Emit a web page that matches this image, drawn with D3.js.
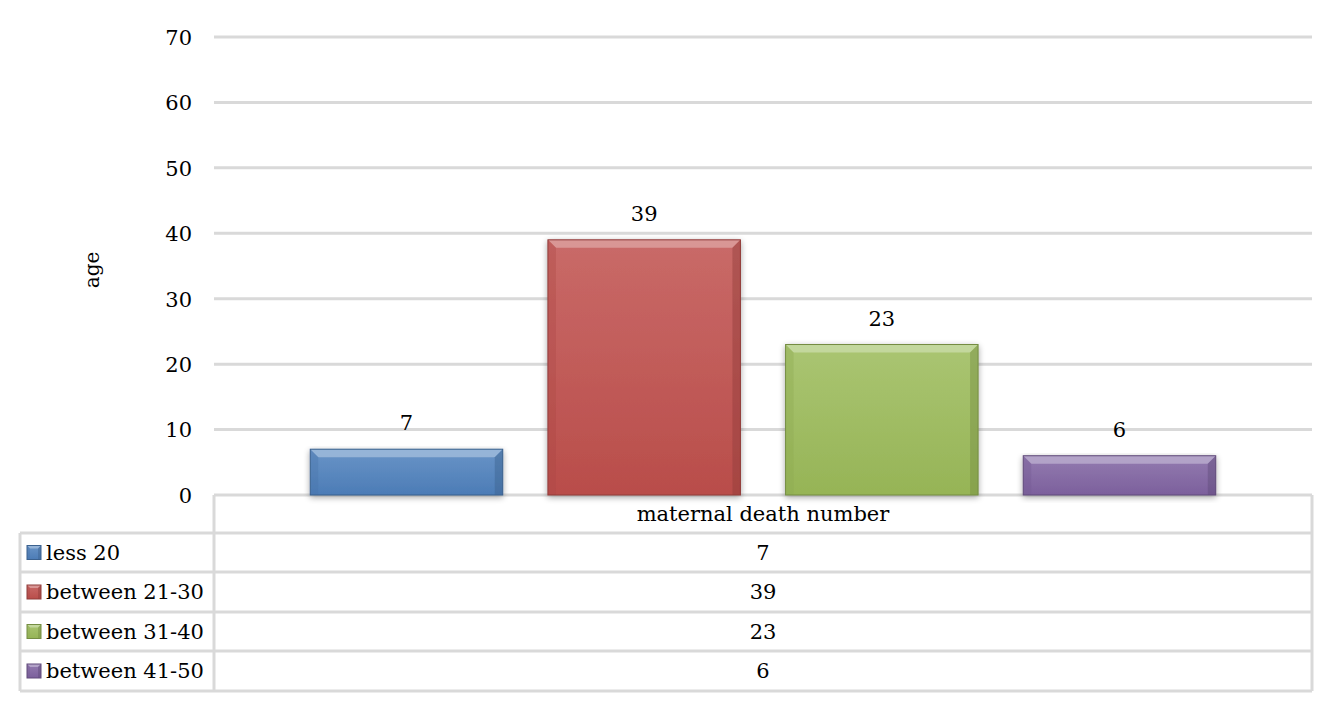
<!DOCTYPE html>
<html>
<head>
<meta charset="utf-8">
<script src="https://cdn.jsdelivr.net/npm/d3@7"></script>
<style>
  body { margin: 0; background: #fff; }
  svg text { font-family: "DejaVu Serif", serif; fill: #000; }
</style>
</head>
<body>
<svg id="chart" width="1336" height="708"></svg>
<script>
// data
var seriesNames = ["less 20", "between 21-30", "between 31-40", "between 41-50"];
var seriesValues = [7, 39, 23, 6];
var seriesColors = ["#4f81bd", "#c0504d", "#9bbb59", "#8064a2"];
var categoryLabel = "maternal death number";
var yTicks = [0, 10, 20, 30, 40, 50, 60, 70];
var yTitle = "age";

var svg = d3.select("#chart");
var plot = { left: 214, right: 1312, top: 37, bottom: 495 };
var fontSize = "21px";

var y = d3.scaleLinear().domain([0, 70]).range([plot.bottom, plot.top]);
var x = d3.scaleBand().domain(seriesNames).range([plot.left, plot.right])
	.paddingInner(0.19).paddingOuter(0.405);

var defs = svg.append("defs");

// soft shadow under the bars
var shadow = defs.append("filter").attr("id", "shadow")
	.attr("x", "-10%").attr("y", "-10%").attr("width", "120%").attr("height", "130%");
shadow.append("feGaussianBlur").attr("in", "SourceAlpha").attr("stdDeviation", 3);
shadow.append("feOffset").attr("dx", 0).attr("dy", 2).attr("result", "blur");
shadow.append("feComponentTransfer").append("feFuncA").attr("type", "linear").attr("slope", 0.35);
var merge = shadow.append("feMerge");
merge.append("feMergeNode");
merge.append("feMergeNode").attr("in", "SourceGraphic");

seriesColors.forEach(function(c, i) {
	var g = defs.append("linearGradient").attr("id", "grad_" + i)
		.attr("x1", 0).attr("y1", 0).attr("x2", 0).attr("y2", 1);
	var top = d3.interpolateRgb(c, "#ffffff")(0.15);
	g.append("stop").attr("offset", "0%").attr("stop-color", top);
	g.append("stop").attr("offset", "100%").attr("stop-color", d3.color(c).darker(0.1));
});

// gridlines
svg.append("g").selectAll("line").data(yTicks).enter().append("line")
	.attr("x1", plot.left).attr("x2", plot.right)
	.attr("y1", function(d) { return y(d); }).attr("y2", function(d) { return y(d); })
	.attr("stroke", "#d9d9d9").attr("stroke-width", 3);

// y axis labels
var yAxis = d3.axisLeft(y).tickValues(yTicks).tickSize(0).tickPadding(0);
var yg = svg.append("g").attr("transform", "translate(192,0)").call(yAxis);
yg.select(".domain").remove();
yg.selectAll("text").style("font-family", "DejaVu Serif, serif").style("font-size", fontSize)
	.attr("fill", "#000").attr("dy", "0.35em");

svg.append("text").attr("transform", "translate(99,270) rotate(-90)")
	.attr("text-anchor", "middle").style("font-size", "20px").text(yTitle);

// bevelled bar
function drawBevel(g, x0, y0, w, h, i, b) {
	var c = d3.color(seriesColors[i]);
	var light = d3.interpolateRgb(c, "#ffffff")(0.45);
	b = Math.min(b, h / 2, w / 2);
	g.append("rect").attr("x", x0).attr("y", y0).attr("width", w).attr("height", h)
		.attr("fill", "url(#grad_" + i + ")");
	// top bevel
	g.append("polygon").attr("points", [[x0, y0], [x0 + w, y0], [x0 + w - b, y0 + b], [x0 + b, y0 + b]].join(" "))
		.attr("fill", light).attr("opacity", 0.85);
	// left/right bevel
	g.append("polygon").attr("points", [[x0, y0], [x0 + b, y0 + b], [x0 + b, y0 + h], [x0, y0 + h]].join(" "))
		.attr("fill", c.darker(0.3)).attr("opacity", 0.35);
	g.append("polygon").attr("points", [[x0 + w, y0], [x0 + w - b, y0 + b], [x0 + w - b, y0 + h], [x0 + w, y0 + h]].join(" "))
		.attr("fill", c.darker(0.8)).attr("opacity", 0.45);
	g.append("rect").attr("x", x0).attr("y", y0).attr("width", w).attr("height", h)
		.attr("fill", "none").attr("stroke", c.darker(0.8)).attr("stroke-width", 1);
}

var bars = svg.append("g");
seriesNames.forEach(function(name, i) {
	var g = bars.append("g").attr("filter", "url(#shadow)");
	var top = y(seriesValues[i]);
	drawBevel(g, x(name), top, x.bandwidth(), plot.bottom - top, i, 8);
});

// value labels
svg.append("g").selectAll("text").data(seriesNames).enter().append("text")
	.attr("x", function(d) { return x(d) + x.bandwidth() / 2; })
	.attr("y", function(d, i) { return y(seriesValues[i]) - 19; })
	.attr("text-anchor", "middle").style("font-size", fontSize)
	.text(function(d, i) { return seriesValues[i]; });

// data table
var tableLeft = 20, rowTop = [495, 533, 572, 612, 651, 691];
var tg = svg.append("g").attr("stroke", "#d9d9d9").attr("stroke-width", 3);
tg.append("line").attr("x1", plot.left).attr("x2", plot.left).attr("y1", rowTop[0]).attr("y2", rowTop[5]);
tg.append("line").attr("x1", plot.right).attr("x2", plot.right).attr("y1", rowTop[0]).attr("y2", rowTop[5]);
tg.append("line").attr("x1", tableLeft).attr("x2", tableLeft).attr("y1", rowTop[1]).attr("y2", rowTop[5]);
rowTop.slice(1).forEach(function(r) {
	tg.append("line").attr("x1", tableLeft).attr("x2", plot.right).attr("y1", r).attr("y2", r);
});

var midX = (plot.left + plot.right) / 2;
svg.append("text").attr("x", midX).attr("y", (rowTop[0] + rowTop[1]) / 2).attr("dy", "0.35em")
	.attr("text-anchor", "middle").style("font-size", fontSize).text(categoryLabel);

seriesNames.forEach(function(name, i) {
	var cy = (rowTop[i + 1] + rowTop[i + 2]) / 2;
	var lg = svg.append("g");
	drawBevel(lg, 27, cy - 7, 14, 14, i, 3);
	svg.append("text").attr("x", 46).attr("y", cy).attr("dy", "0.35em")
		.style("font-size", fontSize).text(name);
	svg.append("text").attr("x", midX).attr("y", cy).attr("dy", "0.35em")
		.attr("text-anchor", "middle").style("font-size", fontSize).text(seriesValues[i]);
});
</script>
</body>
</html>
